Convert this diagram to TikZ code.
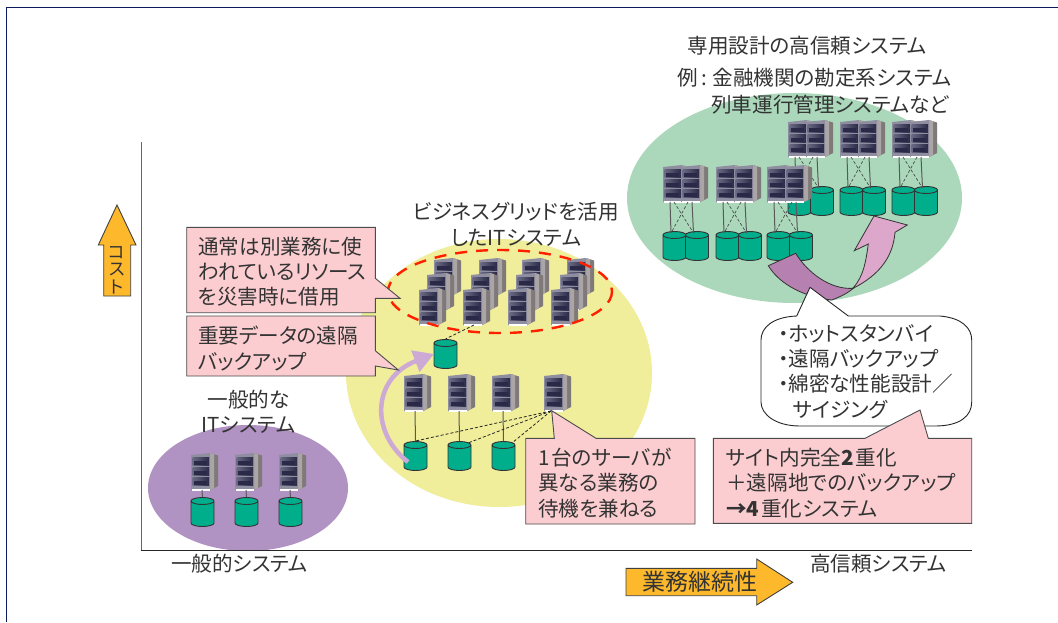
\documentclass[tikz,border=0pt]{standalone}
\usepackage{fontspec}
\setmainfont[RawFeature={+palt}]{Noto Sans CJK JP}
\usetikzlibrary{arrows.meta}
\definecolor{txt}{HTML}{333333}
\definecolor{frameblue}{HTML}{0B1B5C}
\definecolor{cylfill}{HTML}{00AE8C}
\definecolor{pinkbox}{HTML}{FBCDD0}
\definecolor{greenell}{HTML}{ABD8BB}
\definecolor{yellowell}{HTML}{F0EE9A}
\definecolor{purpleell}{HTML}{B092C3}
\definecolor{orangearr}{HTML}{FDB92B}
\definecolor{bay}{HTML}{2A2A48}
\definecolor{bayhi}{HTML}{6A6A84}
\definecolor{facecol}{HTML}{8F8DA0}
\definecolor{sidecol}{HTML}{7F7A79}
\definecolor{sidehi}{HTML}{ABA6A5}
\definecolor{lightarrow}{HTML}{CDA9D6}
\definecolor{ushapeA}{HTML}{B681B0}
\definecolor{ushapeB}{HTML}{DDA6CB}
\tikzset{
 x=1pt,y=-1pt,
 label text/.style={font=\fontsize{20.6}{25.3}\selectfont,text=txt,inner sep=0pt,align=left,anchor=west},
 callout/.style={draw=black!70,fill=pinkbox,line width=0.9pt,line join=miter},
 solidlink/.style={draw=black!65,line width=1pt},
 dashlink/.style={draw=black!85,line width=0.8pt,dash pattern=on 3pt off 2pt},
 crosslink/.style={draw=black!70,line width=0.7pt,dash pattern=on 3pt off 2pt},
 orangebody/.style={draw=black!75,fill=orangearr,line width=0.9pt,line join=miter},
 server/.pic={
  \fill[sidecol] (19,0)--(27,2.5)--(27,33)--(19,37)--cycle;
  \fill[sidehi] (19,0)--(23,1.2)--(23,35)--(19,37)--cycle;
  \fill[facecol] (0,2)--(19,0)--(19,37)--(0,37)--cycle;
  \foreach \yy in {4,14,24}{
    \fill[left color=bayhi,right color=bay] (1.5,\yy) rectangle (18,\yy+8.5);
    \fill[bay] (3,\yy+4) rectangle (16,\yy+7.5);
  }
  \fill[white] (1,36) rectangle (19,37.5);
  \coordinate (-b) at (11,37);
  \coordinate (-bl) at (7,37);
  \coordinate (-br) at (15,37);
 },
 cyl/.pic={
  \draw[black!80,fill=cylfill,line width=0.9pt] (0,4) -- (0,26) arc[start angle=180,end angle=360,x radius=11.5,y radius=-3.5] -- (23,4) arc[start angle=0,end angle=360,x radius=11.5,y radius=-3.5];
  \coordinate (-t) at (11.5,0);
  \coordinate (-tl) at (8,2);
  \coordinate (-tr) at (20,2);
  \coordinate (-w) at (0,15);
  \coordinate (-sw) at (4,21);
 }
}
\begin{document}
\begin{tikzpicture}
\useasboundingbox (0,0) rectangle (1058,622);
\fill[white] (0,0) rectangle (1058,622);
\draw[frameblue,line width=1pt] (6.5,622) -- (6.5,7.5) -- (1058,7.5);

% ellipses
\fill[greenell] (794.5,198) ellipse[x radius=167.5,y radius=105];
\fill[yellowell] (499,373) ellipse[x radius=153,y radius=134];
\fill[purpleell] (248,488) ellipse[x radius=100,y radius=63];

% axes
\draw[black!60,line width=1pt] (141,142) -- (141,550);
\draw[black!85,line width=1pt] (141,550) -- (971.5,550);

% upper dual groups, then lower ones
\foreach \n/\x/\y in {a/788/120,b/840/120,c/892/120,d/663/165,e/716/165,f/767/165}{
  \pic (\n3) at (\x,\y+66) {cyl};
  \pic (\n4) at (\x+22.5,\y+66) {cyl};
  \pic (\n1) at (\x,\y) {server};
  \pic (\n2) at (\x+18,\y) {server};
  \draw[solidlink] (\n1-bl) -- (\n3-tl);
  \draw[solidlink] (\n2-b) -- (\n4-tl);
  \draw[crosslink] (\n2-bl) -- (\n3-tl);
  \draw[crosslink] (\n1-b) -- (\n4-tl);
}

% general IT systems
\foreach \n/\x in {1/191,2/235,3/279}{
  \pic (gs\n) at (\x,453) {server};
  \pic (gc\n) at (\x,497) {cyl};
  \draw[solidlink] (gs\n-b) -- (gc\n-t);
}

% middle: grid servers
\foreach \n/\x in {1/434,2/479,3/522,4/567}{ \pic (r3\n) at (\x,258) {server}; }
\foreach \n/\x in {1/427,2/471,3/516,4/560}{ \pic (r2\n) at (\x,273) {server}; }
\foreach \n/\x in {1/419,2/463,3/508,4/551}{ \pic (r1\n) at (\x,288) {server}; }
\draw[red!75!orange,line width=2.4pt,dash pattern=on 12pt off 9pt] (500,291.5) ellipse[x radius=112,y radius=41.5];

% middle: backup and rows
\pic (mb) at (434,339) {cyl};
\draw[dashlink] (r12-b) -- (mb-t);
\foreach \n/\x in {1/404,2/448,3/492}{
  \pic (ms\n) at (\x,374) {server};
  \pic (mc\n) at (\x,441) {cyl};
  \draw[solidlink] (ms\n-b) -- (mc\n-t);
}
\pic (ms4) at (544,374) {server};
\draw[dashlink] (ms4-bl) -- (mc1-t);
\draw[dashlink] (ms4-bl) -- (mc2-tr);
\draw[dashlink] (ms4-bl) -- (mc3-tr);

% curved backup arrow
\draw[lightarrow,line width=4.5pt,-{Triangle[length=20pt,width=22pt]}] (mc1-sw) .. controls (370,432) and (372,378) .. (mb-w);

% U-shaped arrow
\draw[black!80,fill=ushapeB,line width=0.8pt,line join=miter] (874,216) -- (907.3,225) -- (895,232.3) .. controls (893,258) and (878,278) .. (845,292) -- (853,288) .. controls (864,276) and (866,260) .. (868.3,244) -- (854.3,250.7) -- cycle;
\draw[black!80,fill=ushapeA,line width=0.8pt,line join=miter] (768.3,265.7) -- (795.7,253.3) .. controls (807,272) and (830,290) .. (853.3,288.3) .. controls (848,293) and (840,297) .. (831.7,300) .. controls (805,297) and (780,285) .. (768.3,265.7) -- cycle;

% white rounded callout
\draw[black!85,fill=white,line width=0.9pt,line join=round] (796.7,316) -- (810,287.3) -- (848.3,316) -- (940,316) .. controls (962,318) and (971.7,328) .. (971.7,340) -- (971.7,402) .. controls (971.7,416) and (960,426) .. (935,426) -- (800,426) .. controls (775,426) and (761,414) .. (761,402) -- (761,340) .. controls (761,328) and (772,317) .. (796.7,316) -- cycle;

% pink callouts
\draw[callout] (186.7,227.3) -- (375.3,227.3) -- (375.3,278.3) -- (400,298.3) -- (375.3,298.3) -- (375.3,312.7) -- (186.7,312.7) -- cycle;
\draw[callout] (186.7,316) -- (375.3,316) -- (375.3,350.7) -- (398.3,370) -- (375.3,366) -- (375.3,376) -- (186.7,376) -- cycle;
\draw[callout] (525.7,438.3) -- (554.3,438.3) -- (551.7,410.7) -- (596,438.3) -- (695,438.3) -- (695,524) -- (525.7,524) -- cycle;
\draw[callout] (713.3,438.3) -- (865,438.3) -- (920,410) -- (928.3,438.3) -- (971.7,438.3) -- (971.7,523.3) -- (713.3,523.3) -- cycle;

% orange arrows
\draw[orangebody] (117,205) -- (136,245) -- (130.7,245) -- (130.7,296) -- (103.7,296) -- (103.7,245) -- (98.3,245) -- cycle;
\node[inner sep=0pt,text=txt,align=center,font=\fontsize{17.5}{17.5}\selectfont] (costlabel) at (117,270) {コ\\ス\\ト};
\draw[orangebody] (626,568.3) -- (756.7,568.3) -- (756.7,559) -- (792.7,582.3) -- (756.7,605) -- (756.7,595.7) -- (626,595.7) -- cycle;
\node[inner sep=0pt,text=txt,font=\fontsize{23}{23}\selectfont,anchor=west] (contlabel) at (642,582) {業務継続性};

% texts
\node[label text,anchor=center] (title) at (807,46) {専用設計の高信頼システム};
\node[label text] (ex1) at (677,78) {例\hspace{4pt}:\hspace{5pt}金融機関の勘定系システム};
\node[label text] (ex2) at (711,105) {列車運行管理システムなど};
\node[label text,anchor=center,align=center] (gridlabel) at (516,224.5) {ビジネスグリッドを活用\\したITシステム};
\node[label text,anchor=center,align=center] (itlabel) at (248.5,412) {一般的な\\ITシステム};
\node[label text] (low) at (171,564) {一般的システム};
\node[label text] (high) at (810,564) {高信頼システム};
\node[label text] (b1) at (198,271.5) {通常は別業務に使\\われているリソース\\を災害時に借用};
\node[label text] (b2) at (198,348.5) {重要データの遠隔\\バックアップ};
\node[label text] (b3) at (538,483) {1\hspace{2pt}台のサーバが\\異なる業務の\\待機を兼ねる};
\node[label text] (b4) at (726,483) {サイト内完全\textbf{2}\hspace{2pt}重化\\＋遠隔地でのバックアップ\\\textbf{→4}\hspace{2pt}重化システム};
\node[label text] (w1) at (778,371.5) {・ホットスタンバイ\\・遠隔バックアップ\\・綿密な性能設計／\\\hspace*{15pt}サイジング};
\end{tikzpicture}
\end{document}
